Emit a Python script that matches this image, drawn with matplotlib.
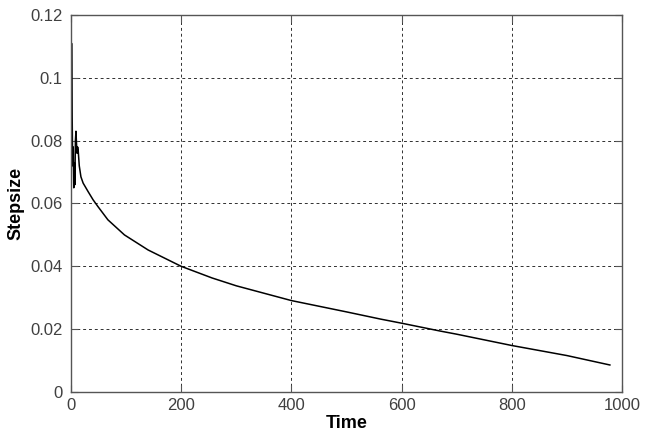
import matplotlib
matplotlib.use("Agg")
import matplotlib.pyplot as plt

# Data
time = [0, 1, 2, 3, 4, 5, 6, 7, 8, 9, 10, 11, 12, 13, 15, 18, 22, 31, 40, 49, 67,
        97, 140, 200, 256, 300, 400, 500, 562, 600, 670, 700, 800, 900, 978]
stepsize = [0.070, 0.111, 0.090, 0.072, 0.078, 0.065, 0.073, 0.066, 0.080, 0.083,
            0.079, 0.076, 0.078, 0.077, 0.072, 0.0685, 0.0665, 0.0638, 0.0612, 0.0590,
            0.0548, 0.0500, 0.0452, 0.0400, 0.0363, 0.0338, 0.0291, 0.0255,
            0.0232, 0.0219, 0.0194, 0.0184, 0.0148, 0.0116, 0.0086]

xticks = [0, 200, 400, 600, 800, 1000]
yticks = [0, 0.02, 0.04, 0.06, 0.08, 0.1, 0.12]
ytick_labels = ["0", "0.02", "0.04", "0.06", "0.08", "0.1", "0.12"]

plt.rcParams['font.family'] = ['Liberation Sans', 'DejaVu Sans']

fig = plt.figure(figsize=(6.48, 4.38), dpi=100)
ax = fig.add_axes([71/648, 1-392/438, (622-71)/648, (392-15)/438])

ax.plot(time, stepsize, color='black', lw=1.1)

ax.set_xlim(0, 1000)
ax.set_ylim(0, 0.12)
ax.set_xticks(xticks)
ax.set_yticks(yticks)
ax.set_yticklabels(ytick_labels)

ax.grid(True, color='#303030', linestyle=(0, (3, 3)), linewidth=0.7)
for s in ax.spines.values():
    s.set_color('#555555')
    s.set_linewidth(1.0)
ax.tick_params(direction='in', length=5, width=0.8, color='#555555',
               top=True, right=True, labelsize=12, labelcolor='#404040')
ax.tick_params(axis='y', pad=6)
ax.tick_params(axis='x', pad=4)

ax.set_xlabel('Time', fontsize=13, fontweight='bold', labelpad=2)
ax.set_ylabel('Stepsize', fontsize=13, fontweight='bold', labelpad=4)

fig.savefig('out.png', dpi=100)
